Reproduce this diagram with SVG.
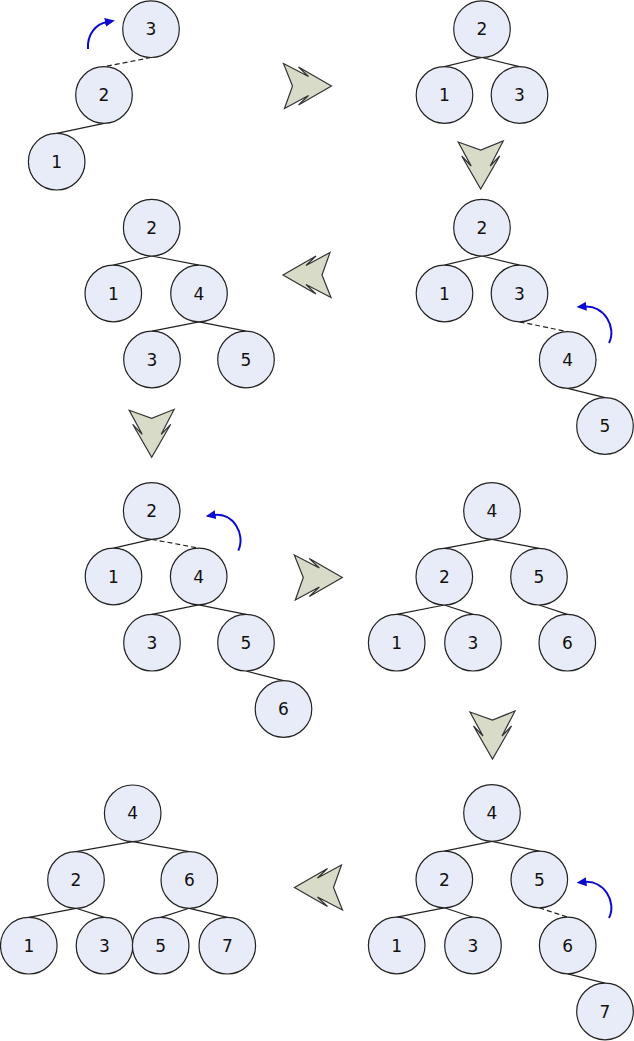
<svg xmlns="http://www.w3.org/2000/svg" xmlns:xlink="http://www.w3.org/1999/xlink" width="634" height="1041" viewBox="0 0 634 1041">
<style>
.n circle{fill:#e8ecf8;stroke:#222;stroke-width:1.2}
.n text{font-family:"DejaVu Sans",Verdana,sans-serif;font-size:17px;fill:#111;text-anchor:middle;dominant-baseline:central}
.e{stroke:#222;stroke-width:1.2;fill:none}
.d{stroke-dasharray:5,3}
.rot{stroke:#0a0ad0;stroke-width:2;fill:none;marker-end:url(#ah)}
.big{fill:#d8dbc8;stroke:#333;stroke-width:1.2;stroke-linejoin:miter}
</style>
<defs>
<marker id="ah" markerUnits="userSpaceOnUse" markerWidth="12" markerHeight="10" refX="2" refY="4.5" orient="auto" viewBox="0 0 12 10">
<path d="M0,0 L10,4.5 L0,9 z" fill="#0a0ad0"/>
</marker>
<path id="arr" class="big" d="M-24,-22.5 L1,-9.5 L-9,-19 L24,0 L-9,19 L1,9.5 L-23,22.5 L-15,0 Z"/>
</defs>

<g id="connectors">
<line class="e d" x1="151" y1="57.5" x2="104" y2="66.7"/>
<line class="e" x1="104" y1="123.3" x2="56.7" y2="133.4"/>
<line class="e" x1="482" y1="57.5" x2="444.5" y2="66.7"/>
<line class="e" x1="482" y1="57.5" x2="519.5" y2="66.7"/>
<line class="e" x1="482" y1="256" x2="444.5" y2="265.2"/>
<line class="e" x1="482" y1="256" x2="519.5" y2="265.2"/>
<line class="e d" x1="519.5" y1="321.8" x2="567.7" y2="331.7"/>
<line class="e" x1="567.7" y1="388.3" x2="605" y2="397.7"/>
<line class="e" x1="151.7" y1="256" x2="113.3" y2="265.2"/>
<line class="e" x1="151.7" y1="256" x2="199" y2="265.2"/>
<line class="e" x1="199" y1="321.8" x2="152" y2="331.2"/>
<line class="e" x1="199" y1="321.8" x2="246" y2="331.2"/>
<line class="e" x1="151.7" y1="539.3" x2="113.5" y2="548.2"/>
<line class="e d" x1="151.7" y1="539.3" x2="198.7" y2="548.2"/>
<line class="e" x1="198.7" y1="604.8" x2="152" y2="614.4"/>
<line class="e" x1="198.7" y1="604.8" x2="246" y2="614.4"/>
<line class="e" x1="246" y1="671" x2="283.5" y2="680.7"/>
<line class="e" x1="492" y1="539.3" x2="444.3" y2="548.4"/>
<line class="e" x1="492" y1="539.3" x2="539" y2="548.4"/>
<line class="e" x1="444.3" y1="605" x2="396.7" y2="614.4"/>
<line class="e" x1="444.3" y1="605" x2="473" y2="614.4"/>
<line class="e" x1="539" y1="605" x2="567.3" y2="614.4"/>
<line class="e" x1="492" y1="841.3" x2="444.3" y2="851.2"/>
<line class="e" x1="492" y1="841.3" x2="539.3" y2="851.2"/>
<line class="e" x1="444.3" y1="907.8" x2="396.7" y2="917.2"/>
<line class="e" x1="444.3" y1="907.8" x2="473" y2="917.2"/>
<line class="e d" x1="539.3" y1="907.8" x2="567.7" y2="917.2"/>
<line class="e" x1="567.7" y1="973.8" x2="605" y2="983.2"/>
<line class="e" x1="132.7" y1="841.6" x2="76" y2="851.7"/>
<line class="e" x1="132.7" y1="841.6" x2="189.3" y2="851.7"/>
<line class="e" x1="76" y1="908.3" x2="28.8" y2="917.4"/>
<line class="e" x1="76" y1="908.3" x2="104.5" y2="917.4"/>
<line class="e" x1="189.3" y1="908.3" x2="160.7" y2="917.4"/>
<line class="e" x1="189.3" y1="908.3" x2="227.3" y2="917.4"/>
<path class="rot" d="M88,49 C87,34 96,24 107,22"/>
<path class="rot" d="M609,343 C617,327 604,305 584.5,306.5"/>
<path class="rot" d="M238.3,550.7 C246,534 233,512 213.5,515"/>
<path class="rot" d="M609,918 C617,902 604,880 584.5,882"/>
</g>

<g id="steps">
<use xlink:href="#arr" href="#arr" transform="translate(307.5,86)"/>
<use xlink:href="#arr" href="#arr" transform="translate(480.7,165) rotate(90)"/>
<use xlink:href="#arr" href="#arr" transform="translate(307,275) rotate(180)"/>
<use xlink:href="#arr" href="#arr" transform="translate(151.7,433.3) rotate(90)"/>
<use xlink:href="#arr" href="#arr" transform="translate(318.3,577.5)"/>
<use xlink:href="#arr" href="#arr" transform="translate(492.5,735) rotate(90)"/>
<use xlink:href="#arr" href="#arr" transform="translate(318.5,887.5) rotate(180)"/>
</g>

<g id="t1n3" class="n"><circle cx="151" cy="29.2" r="28.3"/><text x="151" y="29.2">3</text></g>
<g id="t1n2" class="n"><circle cx="104" cy="95" r="28.3"/><text x="104" y="95">2</text></g>
<g id="t1n1" class="n"><circle cx="56.7" cy="161.7" r="28.3"/><text x="56.7" y="161.7">1</text></g>
<g id="t2n2" class="n"><circle cx="482" cy="29.2" r="28.3"/><text x="482" y="29.2">2</text></g>
<g id="t2n1" class="n"><circle cx="444.5" cy="95" r="28.3"/><text x="444.5" y="95">1</text></g>
<g id="t2n3" class="n"><circle cx="519.5" cy="95" r="28.3"/><text x="519.5" y="95">3</text></g>
<g id="t3n2" class="n"><circle cx="482" cy="227.7" r="28.3"/><text x="482" y="227.7">2</text></g>
<g id="t3n1" class="n"><circle cx="444.5" cy="293.5" r="28.3"/><text x="444.5" y="293.5">1</text></g>
<g id="t3n3" class="n"><circle cx="519.5" cy="293.5" r="28.3"/><text x="519.5" y="293.5">3</text></g>
<g id="t3n4" class="n"><circle cx="567.7" cy="360" r="28.3"/><text x="567.7" y="360">4</text></g>
<g id="t3n5" class="n"><circle cx="605" cy="426" r="28.3"/><text x="605" y="426">5</text></g>
<g id="t4n2" class="n"><circle cx="151.7" cy="227.7" r="28.3"/><text x="151.7" y="227.7">2</text></g>
<g id="t4n1" class="n"><circle cx="113.3" cy="293.5" r="28.3"/><text x="113.3" y="293.5">1</text></g>
<g id="t4n4" class="n"><circle cx="199" cy="293.5" r="28.3"/><text x="199" y="293.5">4</text></g>
<g id="t4n3" class="n"><circle cx="152" cy="359.5" r="28.3"/><text x="152" y="359.5">3</text></g>
<g id="t4n5" class="n"><circle cx="246" cy="359.5" r="28.3"/><text x="246" y="359.5">5</text></g>
<g id="t5n2" class="n"><circle cx="151.7" cy="511" r="28.3"/><text x="151.7" y="511">2</text></g>
<g id="t5n1" class="n"><circle cx="113.5" cy="576.5" r="28.3"/><text x="113.5" y="576.5">1</text></g>
<g id="t5n4" class="n"><circle cx="198.7" cy="576.5" r="28.3"/><text x="198.7" y="576.5">4</text></g>
<g id="t5n3" class="n"><circle cx="152" cy="642.7" r="28.3"/><text x="152" y="642.7">3</text></g>
<g id="t5n5" class="n"><circle cx="246" cy="642.7" r="28.3"/><text x="246" y="642.7">5</text></g>
<g id="t5n6" class="n"><circle cx="283.5" cy="709" r="28.3"/><text x="283.5" y="709">6</text></g>
<g id="t6n4" class="n"><circle cx="492" cy="511" r="28.3"/><text x="492" y="511">4</text></g>
<g id="t6n2" class="n"><circle cx="444.3" cy="576.7" r="28.3"/><text x="444.3" y="576.7">2</text></g>
<g id="t6n5" class="n"><circle cx="539" cy="576.7" r="28.3"/><text x="539" y="576.7">5</text></g>
<g id="t6n1" class="n"><circle cx="396.7" cy="642.7" r="28.3"/><text x="396.7" y="642.7">1</text></g>
<g id="t6n3" class="n"><circle cx="473" cy="642.7" r="28.3"/><text x="473" y="642.7">3</text></g>
<g id="t6n6" class="n"><circle cx="567.3" cy="642.7" r="28.3"/><text x="567.3" y="642.7">6</text></g>
<g id="t7n4" class="n"><circle cx="492" cy="813" r="28.3"/><text x="492" y="813">4</text></g>
<g id="t7n2" class="n"><circle cx="444.3" cy="879.5" r="28.3"/><text x="444.3" y="879.5">2</text></g>
<g id="t7n5" class="n"><circle cx="539.3" cy="879.5" r="28.3"/><text x="539.3" y="879.5">5</text></g>
<g id="t7n1" class="n"><circle cx="396.7" cy="945.5" r="28.3"/><text x="396.7" y="945.5">1</text></g>
<g id="t7n3" class="n"><circle cx="473" cy="945.5" r="28.3"/><text x="473" y="945.5">3</text></g>
<g id="t7n6" class="n"><circle cx="567.7" cy="945.5" r="28.3"/><text x="567.7" y="945.5">6</text></g>
<g id="t7n7" class="n"><circle cx="605" cy="1011.5" r="28.3"/><text x="605" y="1011.5">7</text></g>
<g id="t8n4" class="n"><circle cx="132.7" cy="813.3" r="28.3"/><text x="132.7" y="813.3">4</text></g>
<g id="t8n2" class="n"><circle cx="76" cy="880" r="28.3"/><text x="76" y="880">2</text></g>
<g id="t8n6" class="n"><circle cx="189.3" cy="880" r="28.3"/><text x="189.3" y="880">6</text></g>
<g id="t8n1" class="n"><circle cx="28.8" cy="945.7" r="28.3"/><text x="28.8" y="945.7">1</text></g>
<g id="t8n3" class="n"><circle cx="104.5" cy="945.7" r="28.3"/><text x="104.5" y="945.7">3</text></g>
<g id="t8n5" class="n"><circle cx="160.7" cy="945.7" r="28.3"/><text x="160.7" y="945.7">5</text></g>
<g id="t8n7" class="n"><circle cx="227.3" cy="945.7" r="28.3"/><text x="227.3" y="945.7">7</text></g>
</svg>
